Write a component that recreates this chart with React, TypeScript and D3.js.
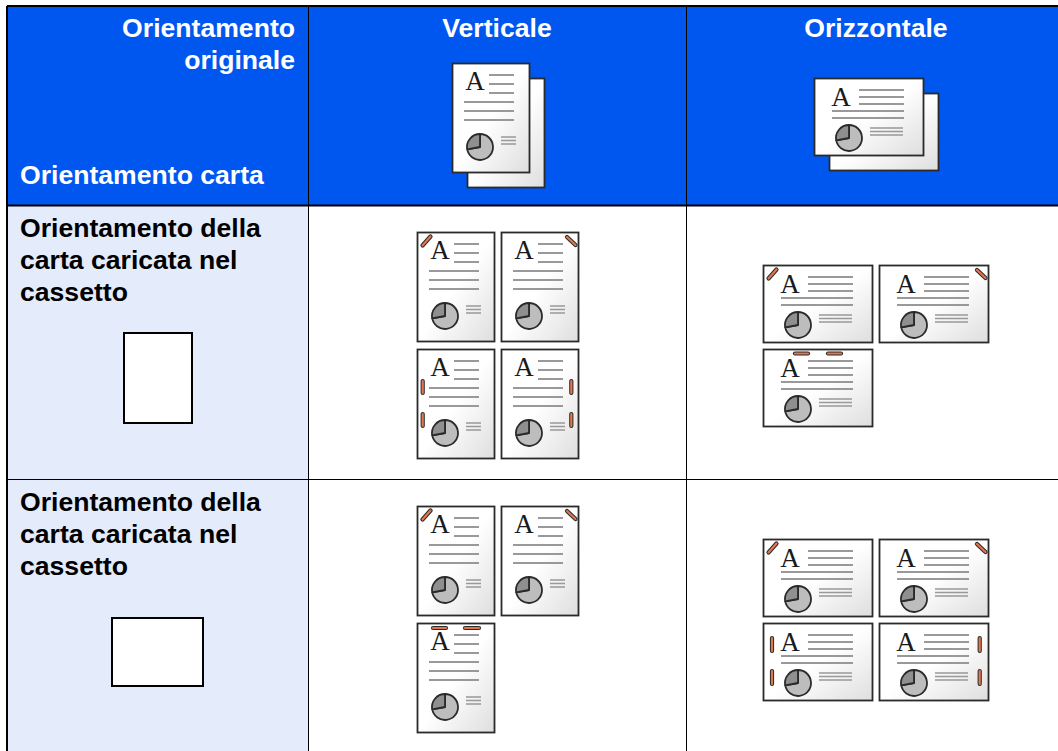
import React, { useEffect, useRef } from "react";
import * as d3 from "d3";

const columnTitles = ["Verticale", "Orizzontale"];
const cornerTitle = ["Orientamento", "originale"];
const paperTitle = "Orientamento carta";
const rowLabel = ["Orientamento della", "carta caricata nel", "cassetto"];
const piePortions = [72, 28];

// staples of each sheet, read left to right and top to bottom
const verticalFirstRow = ["cornerLeft", "cornerRight", "left", "right"];
const verticalSecondRow = ["cornerLeft", "cornerRight", "top"];
const horizontalFirstRow = ["cornerLeft", "cornerRight", "top"];
const horizontalSecondRow = ["cornerLeft", "cornerRight", "left", "right"];

const WIDTH = 1058;
const HEIGHT = 751;
const BLUE = "#0057f0";
const PALE = "#e4ebfb";
const LINE_GREY = "#999999";
const DARK = "#2a2a2a";
const ORANGE = "#e0774f";

const portrait = {
  w: 77, h: 109,
  aX: 23, aY: 27,
  shortLines: [[37, 62, 12], [37, 62, 21], [37, 62, 30]],
  longLines: [[12, 62, 39], [12, 62, 48], [12, 62, 57]],
  smallLines: [[49, 64, 74], [49, 64, 77.5], [49, 64, 81]],
  pie: [28, 84],
  staples: {
    cornerLeft: [[5.5, 13.5, 13.5, 4.5]],
    cornerRight: [[66, 5, 74.5, 13]],
    left: [[5.7, 32, 5.7, 44], [5.7, 65, 5.7, 77]],
    right: [[70.3, 32, 70.3, 44], [70.3, 65, 70.3, 77]],
    top: [[16, 5, 29, 5], [48, 5, 62, 5]],
  },
};

const landscape = {
  w: 109, h: 77,
  aX: 27, aY: 28,
  shortLines: [[45, 90, 12], [45, 90, 19], [45, 90, 26]],
  longLines: [[18, 90, 33], [18, 90, 40]],
  smallLines: [[56, 89, 50], [56, 89, 53.5], [56, 89, 57]],
  pie: [35, 60],
  staples: {
    cornerLeft: [[5.5, 13.5, 13.5, 4.5]],
    cornerRight: [[98, 5, 106.5, 13]],
    left: [[9, 15, 9, 28], [9, 48, 9, 61]],
    right: [[100.7, 15, 100.7, 28], [100.7, 48, 100.7, 61]],
    top: [[32, 4.5, 45, 4.5], [65, 4.5, 78, 4.5]],
  },
};

function drawPaper(svg: any, kind: any, x: number, y: number) {
  const g = svg.append("g").attr("transform", `translate(${x},${y})`);
  g.append("rect")
    .attr("x", 0.5).attr("y", 0.5)
    .attr("width", kind.w).attr("height", kind.h)
    .attr("fill", "url(#paper)")
    .attr("stroke", DARK)
    .attr("stroke-width", 1.8);
  return g;
}

function drawSheet(svg: any, kind: any, x: number, y: number, staples: string[]) {
  const g = drawPaper(svg, kind, x, y);

  g.append("text")
    .attr("x", kind.aX).attr("y", kind.aY)
    .attr("text-anchor", "middle")
    .attr("font-family", "'Liberation Serif', serif")
    .attr("font-size", 27)
    .attr("fill", "#1a1a1a")
    .text("A");

  const bars = [
    ...kind.shortLines.map((d: number[]) => [...d, 2]),
    ...kind.longLines.map((d: number[]) => [...d, 2]),
    ...kind.smallLines.map((d: number[]) => [...d, 1.5]),
  ];
  g.selectAll("line.bar")
    .data(bars)
    .enter()
    .append("line")
    .attr("class", "bar")
    .attr("x1", (d: number[]) => d[0])
    .attr("x2", (d: number[]) => d[1])
    .attr("y1", (d: number[]) => d[2])
    .attr("y2", (d: number[]) => d[2])
    .attr("stroke", LINE_GREY)
    .attr("stroke-width", (d: number[]) => d[3]);

  const pieG = g.append("g").attr("transform", `translate(${kind.pie[0]},${kind.pie[1]})`);
  const arc = d3.arc().innerRadius(0).outerRadius(13);
  const slices = d3.pie().sort(null)(piePortions);
  pieG.selectAll("path")
    .data(slices)
    .enter()
    .append("path")
    .attr("d", arc as any)
    .attr("fill", (_: any, i: number) => (i === 0 ? "#bdbdbd" : "#8f8f8f"))
    .attr("stroke", DARK)
    .attr("stroke-width", 1.8)
    .attr("stroke-linejoin", "round");

  staples.forEach((name) => {
    (kind.staples[name] || []).forEach((s: number[]) => {
      [[DARK, 4.2, "round"], [ORANGE, 2.2, "round"]].forEach(([color, width, cap]) => {
        g.append("line")
          .attr("x1", s[0]).attr("y1", s[1])
          .attr("x2", s[2]).attr("y2", s[3])
          .attr("stroke", color)
          .attr("stroke-width", width)
          .attr("stroke-linecap", cap);
      });
    });
  });
}

function drawGrid(svg: any, kind: any, columns: number[], rows: number[], sheets: string[]) {
  const col = d3.scaleOrdinal<number, number>().domain([0, 1]).range(columns);
  const row = d3.scaleOrdinal<number, number>().domain([0, 1]).range(rows);
  sheets.forEach((name, i) => {
    const r = i < 2 ? 0 : 1;
    drawSheet(svg, kind, col(i % 2), row(r), [name]);
  });
}

export default function App() {
  const ref = useRef<SVGSVGElement>(null);

  useEffect(() => {
    const svg = d3.select(ref.current);
    svg.selectAll("*").remove();

    const grad = svg.append("defs").append("linearGradient")
      .attr("id", "paper")
      .attr("x1", 0).attr("y1", 0).attr("x2", 1).attr("y2", 1);
    grad.append("stop").attr("offset", "50%").attr("stop-color", "#ffffff");
    grad.append("stop").attr("offset", "100%").attr("stop-color", "#dedede");

    // table background
    svg.append("rect").attr("width", WIDTH).attr("height", HEIGHT).attr("fill", "#ffffff");
    svg.append("rect").attr("x", 7).attr("y", 6).attr("width", WIDTH - 7).attr("height", 200).attr("fill", BLUE);
    svg.append("rect").attr("x", 7).attr("y", 206).attr("width", 301).attr("height", HEIGHT - 206).attr("fill", PALE);

    // table rules
    const rules = [
      [7, 6, WIDTH, 6, 2],
      [7, 6, 7, HEIGHT, 2],
      [7, 205.5, WIDTH, 205.5, 2],
      [7, 479.5, WIDTH, 479.5, 1],
      [308.5, 6, 308.5, HEIGHT, 1],
      [686.5, 6, 686.5, HEIGHT, 1],
    ];
    svg.selectAll("line.rule")
      .data(rules)
      .enter()
      .append("line")
      .attr("class", "rule")
      .attr("x1", (d) => d[0])
      .attr("y1", (d) => d[1])
      .attr("x2", (d) => d[2])
      .attr("y2", (d) => d[3])
      .attr("stroke", "#000")
      .attr("stroke-width", (d) => d[4]);

    const label = (x: number, y: number, s: string, fill: string, anchor = "start") =>
      svg.append("text")
        .attr("x", x).attr("y", y)
        .attr("text-anchor", anchor)
        .attr("font-family", "'Liberation Sans', Arial, sans-serif")
        .attr("font-weight", "bold")
        .attr("font-size", 26.6)
        .attr("fill", fill)
        .text(s);

    cornerTitle.forEach((s, i) => label(295, 37 + i * 32, s, "#fff", "end"));
    label(20, 184, paperTitle, "#fff");
    label(497, 37, columnTitles[0], "#fff", "middle");
    label(876, 37, columnTitles[1], "#fff", "middle");
    rowLabel.forEach((s, i) => {
      label(20, 237 + i * 32, s, "#000");
      label(20, 511 + i * 32, s, "#000");
    });

    // empty paper shapes of the first column
    svg.append("rect").attr("x", 124).attr("y", 333).attr("width", 68).attr("height", 90)
      .attr("fill", "#fff").attr("stroke", "#000").attr("stroke-width", 2);
    svg.append("rect").attr("x", 112).attr("y", 618).attr("width", 91).attr("height", 68)
      .attr("fill", "#fff").attr("stroke", "#000").attr("stroke-width", 2);

    // header documents, the sheet behind is blank
    drawPaper(svg, portrait, 467, 78);
    drawSheet(svg, portrait, 452, 63, []);
    drawPaper(svg, landscape, 829, 93);
    drawSheet(svg, landscape, 814, 78, []);

    // stapled sheets
    drawGrid(svg, portrait, [417, 501], [232, 349], verticalFirstRow);
    drawGrid(svg, portrait, [417, 501], [506, 623], verticalSecondRow);
    drawGrid(svg, landscape, [763, 879], [265, 349], horizontalFirstRow);
    drawGrid(svg, landscape, [763, 879], [539, 623], horizontalSecondRow);
  }, []);

  return (
    <svg
      ref={ref}
      width={WIDTH}
      height={HEIGHT}
      style={{ position: "fixed", left: 0, top: 0, display: "block" }}
    />
  );
}
